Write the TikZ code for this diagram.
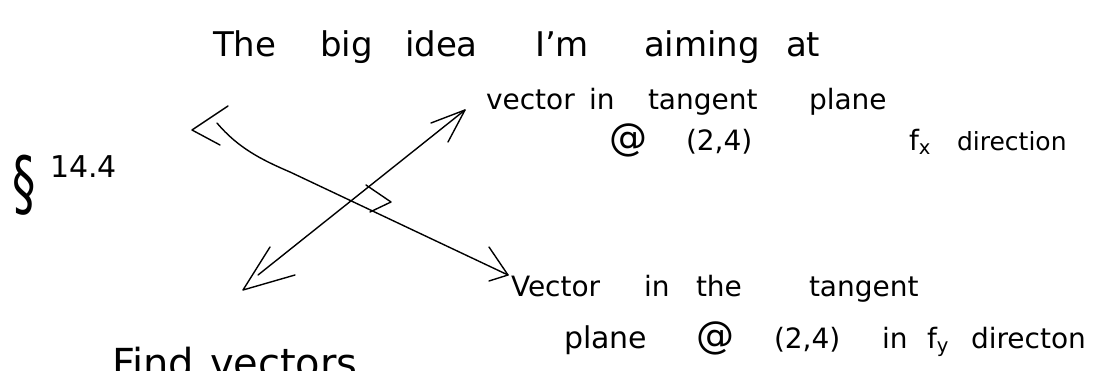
\documentclass[tikz,border=0pt]{standalone}
\usepackage{fontspec}
\setmainfont{DejaVu Sans}
\begin{document}
\begin{tikzpicture}[x=1pt,y=-1pt, line width=1.4pt, line cap=round, line join=round,
  hw/.style={anchor=base west, inner sep=0pt, outer sep=0pt},
  ttl/.style={hw, font=\fontsize{34}{40}\selectfont},
  bdy/.style={hw, font=\fontsize{28}{32}\selectfont},
  big/.style={hw, font=\fontsize{30}{36}\selectfont},
  atsign/.style={hw, font=\fontsize{38}{40}\selectfont},
  pen/.style={draw=black, line width=1.4pt}]
\fill[white] (0,0) rectangle (1112,371);
\useasboundingbox (0,0) rectangle (1112,371);
\clip (0,0) rectangle (1112,371);

% title
\node[ttl] (t1) at (213,57) {The};
\node[ttl] (t2) at (320,57) {big};
\node[ttl] (t3) at (405,57) {idea};
\node[ttl] (t4) at (535,57) {I'm};
\node[ttl] (t5) at (644,57) {aiming};
\node[ttl] (t6) at (786,57) {at};

% section
\node[inner sep=0pt, font=\fontsize{72}{72}\selectfont] (sec) at (24,185) {\scalebox{0.65}[1]{§}};
\node[hw, font=\fontsize{30}{36}\selectfont] (num) at (50,178) {14.4};

% upper right label
\node[bdy] (a1) at (486,110) {vector};
\node[bdy] (a2) at (589,110) {in};
\node[bdy] (a3) at (648,110) {tangent};
\node[bdy] (a4) at (809,110) {plane};
\node[atsign] (a5) at (609,151) {@};
\node[bdy] (a6) at (686,151) {(2,4)};
\node[bdy] (a7) at (909,151) {f\textsubscript{x}};
\node[bdy, font=\fontsize{25}{30}\selectfont] (a8) at (957,151) {direction};

% lower right label
\node[bdy] (b1) at (511,297) {Vector};
\node[bdy] (b2) at (644,297) {in};
\node[bdy] (b3) at (696,297) {the};
\node[bdy] (b4) at (809,297) {tangent};
\node[big] (b5) at (564,349) {plane};
\node[atsign] (b6) at (696,349) {@};
\node[bdy] (b7) at (774,349) {(2,4)};
\node[bdy] (b8) at (882,349) {in};
\node[bdy] (b9) at (927,349) {f\textsubscript{y}};
\node[bdy] (b10) at (971,349) {directon};

% bottom (cut off at the edge, as in the reference)
\node[hw, font=\fontsize{40}{48}\selectfont] (c1) at (112,378) {Find};
\node[hw, font=\fontsize{40}{48}\selectfont] (c2) at (210,378) {vectors};

% vectors
\coordinate (nwtip) at (192,130);
\coordinate (l1a) at (217,123);
\coordinate (l1m) at (290,172);
\coordinate (setip) at (508,275);
\coordinate (swtip) at (243,290);
\coordinate (l2a) at (258,275);
\coordinate (netip) at (465,110);

\draw[pen] (l1a) .. controls (238,148) and (262,160) .. (l1m) -- (setip);
\draw[pen] (nwtip) ++(36,-24) -- (nwtip) -- ++(28,15);
\draw[pen] (setip) ++(-19,-28) -- (setip) -- ++(-19,6);

\draw[pen] (l2a) -- (netip);
\draw[pen] (swtip) ++(27,-43) -- (swtip) -- ++(52,-15);
\draw[pen] (netip) ++(-34,13) -- (netip) -- ++(-17,32);

% right angle mark
\draw[pen] (366,185) -- (391,202) -- (370,212);
\end{tikzpicture}
\end{document}
